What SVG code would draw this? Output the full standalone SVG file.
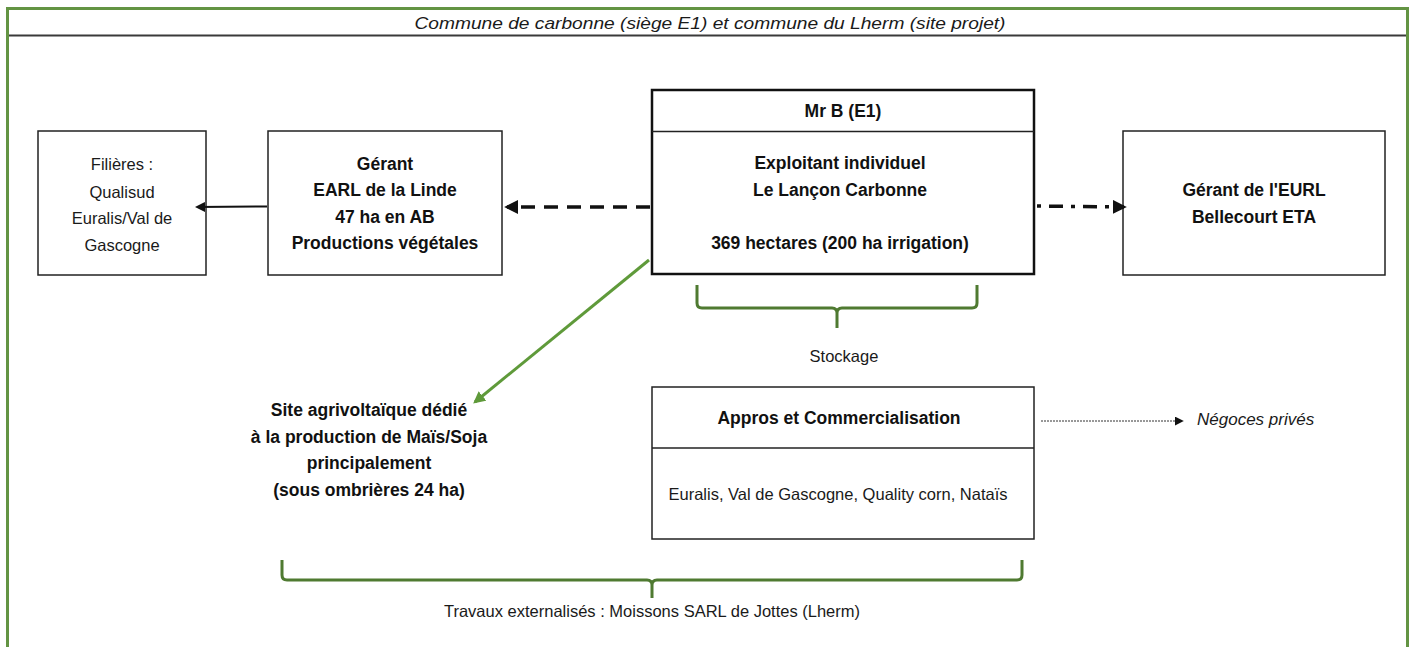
<svg xmlns="http://www.w3.org/2000/svg" width="1415" height="647" viewBox="0 0 1415 647">
<defs>
<style>
.box{fill:#fff;stroke:#222;stroke-width:1.5}
.boxb{fill:#fff;stroke:#111;stroke-width:2.5}
.t{font-family:"Liberation Sans",Arial,sans-serif;font-size:16.5px;fill:#1a1a1a;text-anchor:middle}
.b{font-family:"Liberation Sans",Arial,sans-serif;font-size:17.5px;font-weight:bold;fill:#111;text-anchor:middle}
.i{font-family:"Liberation Sans",Arial,sans-serif;font-size:17px;font-style:italic;fill:#1a1a1a}
.brace{fill:none;stroke:#4f7a31;stroke-width:3}
</style>
<marker id="ah" viewBox="0 0 10 10" refX="8" refY="5" markerWidth="4" markerHeight="4" orient="auto" markerUnits="strokeWidth">
<path d="M0,0 L10,5 L0,10 z" fill="#111"/>
</marker>
<marker id="ahs" viewBox="0 0 10 10" refX="8" refY="5" markerWidth="5" markerHeight="5" orient="auto" markerUnits="strokeWidth">
<path d="M0,0 L10,5 L0,10 z" fill="#111"/>
</marker>
<marker id="aht" viewBox="0 0 10 10" refX="8" refY="5" markerWidth="9" markerHeight="9" orient="auto" markerUnits="strokeWidth">
<path d="M0,0 L10,5 L0,10 z" fill="#111"/>
</marker>
<marker id="ahg" viewBox="0 0 10 10" refX="8" refY="5" markerWidth="4" markerHeight="4" orient="auto" markerUnits="strokeWidth">
<path d="M0,0 L10,5 L0,10 z" fill="#5f9a3a"/>
</marker>
</defs>

<g id="frame">
<path d="M7.5,647 L7.5,8.5 L1407.5,8.5 L1407.5,647" fill="none" stroke="#639443" stroke-width="3"/>
<line x1="9" y1="35.5" x2="1406" y2="35.5" stroke="#3a3a3a" stroke-width="2"/>
<text class="i" x="710" y="29" text-anchor="middle" textLength="591" lengthAdjust="spacingAndGlyphs">Commune de carbonne (siège E1) et commune du Lherm (site projet)</text>
</g>

<g id="filieres">
<rect class="box" x="38" y="131" width="168" height="144"/>
<text class="t" x="122" y="170">Filières :</text>
<text class="t" x="122" y="198">Qualisud</text>
<text class="t" x="122" y="224">Euralis/Val de</text>
<text class="t" x="122" y="251">Gascogne</text>
</g>

<g id="earl">
<rect class="box" x="268" y="131" width="234" height="144"/>
<text class="b" x="385" y="170">Gérant</text>
<text class="b" x="385" y="196">EARL de la Linde</text>
<text class="b" x="385" y="223">47 ha en AB</text>
<text class="b" x="385" y="249">Productions végétales</text>
</g>

<g id="mrb">
<rect class="boxb" x="652" y="90" width="382" height="184"/>
<line x1="652" y1="131.5" x2="1034" y2="131.5" stroke="#222" stroke-width="1.5"/>
<text class="b" x="843" y="117">Mr B (E1)</text>
<text class="b" x="840" y="169">Exploitant individuel</text>
<text class="b" x="840" y="196">Le Lançon Carbonne</text>
<text class="b" x="840" y="249">369 hectares (200 ha irrigation)</text>
</g>

<g id="eurl">
<rect class="box" x="1123" y="131" width="262" height="144"/>
<text class="b" x="1254" y="196">Gérant de l'EURL</text>
<text class="b" x="1254" y="223">Bellecourt ETA</text>
</g>

<g id="stockage">
<text class="t" x="844" y="362">Stockage</text>
</g>

<g id="site">
<text class="b" x="369" y="416">Site agrivoltaïque dédié</text>
<text class="b" x="369" y="443">à la production de Maïs/Soja</text>
<text class="b" x="369" y="469">principalement</text>
<text class="b" x="369" y="496">(sous ombrières 24 ha)</text>
</g>

<g id="appros">
<rect class="box" x="652" y="387" width="382" height="152"/>
<line x1="652" y1="448" x2="1034" y2="448" stroke="#222" stroke-width="1.5"/>
<text class="b" x="839" y="424">Appros et Commercialisation</text>
<text class="t" x="838" y="500">Euralis, Val de Gascogne, Quality corn, Nataïs</text>
</g>

<g id="negoces">
<text class="i" x="1197" y="425">Négoces privés</text>
</g>

<g id="travaux">
<text class="t" x="652" y="617">Travaux externalisés : Moissons SARL de Jottes (Lherm)</text>
</g>

<g id="connectors">
<line x1="267" y1="206.5" x2="197" y2="207" stroke="#111" stroke-width="2" marker-end="url(#ahs)"/>
<line x1="650" y1="207" x2="507" y2="207" stroke="#111" stroke-width="3.5" stroke-dasharray="14,9" marker-end="url(#ah)"/>
<line x1="1037" y1="206" x2="1124" y2="207" stroke="#111" stroke-width="3.5" stroke-dasharray="4,8,14,8" marker-end="url(#ah)"/>
<line x1="649" y1="260" x2="475" y2="402" stroke="#5f9a3a" stroke-width="3" marker-end="url(#ahg)"/>
<line x1="1041" y1="421" x2="1182" y2="421" stroke="#333" stroke-width="1" stroke-dasharray="2,1" marker-end="url(#aht)"/>
<path class="brace" d="M697,285 L697,303 Q697,308 702,308 L832,308 Q837,308 837,313 L837,328 M837,313 Q837,308 842,308 L972,308 Q977,308 977,303 L977,285"/>
<path class="brace" d="M282,560 L282,575 Q282,580 287,580 L647,580 Q652,580 652,585 L652,598 M652,585 Q652,580 657,580 L1017,580 Q1022,580 1022,575 L1022,560" stroke-width="2.5"/>
</g>
</svg>
